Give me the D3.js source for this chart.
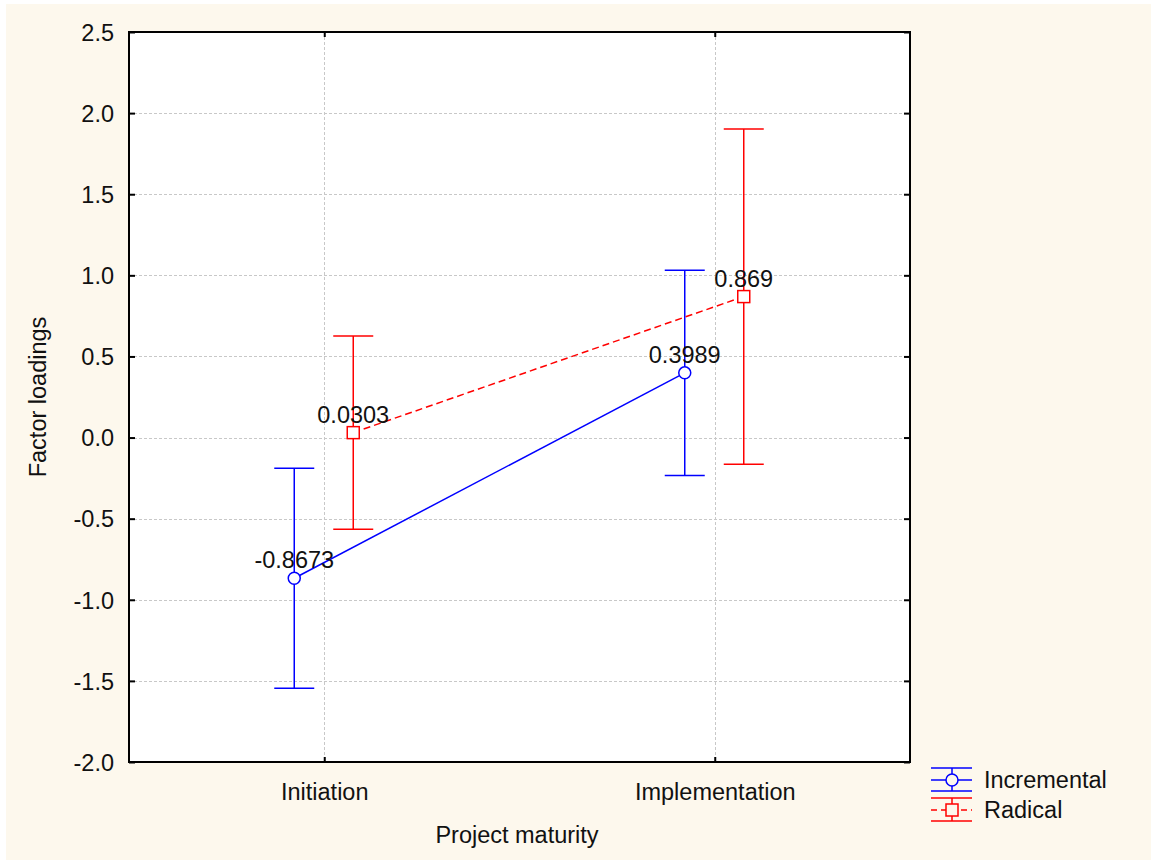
<!DOCTYPE html>
<html>
<head>
<meta charset="utf-8">
<script src="https://cdn.jsdelivr.net/npm/d3@7"></script>
<style>
  html, body { margin: 0; padding: 0; background: #ffffff; }
  svg { display: block; }
  text { font-family: "Liberation Sans", Arial, sans-serif; fill: #111; }
</style>
</head>
<body>
<svg id="chart" width="1151" height="860"></svg>
<script>
// Categories and series (means with symmetric error half-widths)
const categories = ["Initiation", "Implementation"];
const seriesNames = ["Incremental", "Radical"];
const incrementalMeans = [-0.8673, 0.3989];
const incrementalErrors = [0.678, 0.633];
const radicalMeans = [0.0303, 0.869];
const radicalErrors = [0.595, 1.033];
const yTicks = [-2.0, -1.5, -1.0, -0.5, 0.0, 0.5, 1.0, 1.5, 2.0, 2.5];

const series = [
  { name: seriesNames[0], means: incrementalMeans, errs: incrementalErrors, color: "#0000ff", dash: null, marker: "circle", shift: -30 },
  { name: seriesNames[1], means: radicalMeans, errs: radicalErrors, color: "#ff0000", dash: "7,4", marker: "square", shift: 29 }
];

const svg = d3.select("#chart");
const W = 1151, H = 860;
const plot = { left: 129, top: 32, right: 910, bottom: 762 };
const FS = 23.5;

// Page background
svg.append("rect").attr("x", 6).attr("y", 4).attr("width", W - 6).attr("height", H - 4).attr("fill", "#fdf8ed");
svg.append("rect").attr("x", plot.left).attr("y", plot.top)
  .attr("width", plot.right - plot.left).attr("height", plot.bottom - plot.top).attr("fill", "#ffffff");

const x = d3.scalePoint().domain(categories).range([plot.left, plot.right]).padding(0.5);
const y = d3.scaleLinear().domain([-2.0, 2.5]).range([plot.bottom, plot.top]);

// Grid lines
const grid = svg.append("g").attr("stroke", "#c8c8c8").attr("stroke-width", 1).attr("stroke-dasharray", "3,2");
grid.selectAll("line.h").data(yTicks.filter(t => t > -2 && t < 2.5)).join("line")
  .attr("x1", plot.left).attr("x2", plot.right)
  .attr("y1", d => Math.round(y(d)) + 0.5).attr("y2", d => Math.round(y(d)) + 0.5);
grid.selectAll("line.v").data(categories).join("line")
  .attr("y1", plot.top).attr("y2", plot.bottom)
  .attr("x1", d => Math.round(x(d)) + 0.5).attr("x2", d => Math.round(x(d)) + 0.5);

// Axes: ticks drawn inward on all four sides; plain hyphen for negatives
const fmt = d => d3.format(".1f")(d).replace("\u2212", "-");
const yLeft = svg.append("g").attr("transform", `translate(${plot.left},0)`)
  .call(d3.axisLeft(y).tickValues(yTicks).tickSize(-6).tickPadding(15).tickFormat(fmt));
const yRight = svg.append("g").attr("transform", `translate(${plot.right},0)`)
  .call(d3.axisRight(y).tickValues(yTicks).tickSize(-6).tickFormat(""));
const xBottom = svg.append("g").attr("transform", `translate(0,${plot.bottom})`)
  .call(d3.axisBottom(x).tickSize(-5).tickPadding(21));
const xTop = svg.append("g").attr("transform", `translate(0,${plot.top})`)
  .call(d3.axisTop(x).tickSize(-5).tickFormat(""));
[yLeft, yRight, xBottom, xTop].forEach(g => {
  g.select(".domain").remove();
  g.selectAll(".tick line").attr("stroke", "#000").attr("stroke-width", 2);
  g.selectAll(".tick text").attr("font-size", FS).attr("fill", "#111")
    .style("font-family", "'Liberation Sans', Arial, sans-serif");
});
yLeft.selectAll(".tick text").attr("dy", "0.35em");
xBottom.selectAll(".tick text").attr("dy", "0.71em");

// Frame
svg.append("rect").attr("x", plot.left).attr("y", plot.top)
  .attr("width", plot.right - plot.left).attr("height", plot.bottom - plot.top)
  .attr("fill", "none").attr("stroke", "#000").attr("stroke-width", 2);

// Series: connecting line, error bars, markers, value labels
const capHalf = 20;
series.forEach(s => {
  const pts = categories.map((c, i) => ({ cx: x(c) + s.shift, m: s.means[i], e: s.errs[i] }));
  const g = svg.append("g");
  g.append("path")
    .attr("d", d3.line().x(d => d.cx).y(d => y(d.m))(pts))
    .attr("fill", "none").attr("stroke", s.color).attr("stroke-width", 1.5)
    .attr("stroke-dasharray", s.dash);
  pts.forEach(p => {
    const eb = g.append("g").attr("stroke", s.color).attr("stroke-width", 1.5);
    eb.append("line").attr("x1", p.cx).attr("x2", p.cx).attr("y1", y(p.m + p.e)).attr("y2", y(p.m - p.e));
    eb.append("line").attr("x1", p.cx - capHalf).attr("x2", p.cx + capHalf).attr("y1", y(p.m + p.e)).attr("y2", y(p.m + p.e));
    eb.append("line").attr("x1", p.cx - capHalf).attr("x2", p.cx + capHalf).attr("y1", y(p.m - p.e)).attr("y2", y(p.m - p.e));
    if (s.marker === "circle") {
      g.append("circle").attr("cx", p.cx).attr("cy", y(p.m)).attr("r", 6)
        .attr("fill", "#fff").attr("stroke", s.color).attr("stroke-width", 1.5);
    } else {
      g.append("rect").attr("x", p.cx - 6).attr("y", y(p.m) - 6).attr("width", 12).attr("height", 12)
        .attr("fill", "#fff").attr("stroke", s.color).attr("stroke-width", 1.5);
    }
    g.append("text").attr("x", p.cx).attr("y", y(p.m) - 10)
      .attr("text-anchor", "middle").attr("font-size", FS).text(String(p.m));
  });
});

// Axis titles
svg.append("text").attr("x", 517).attr("y", 843)
  .attr("text-anchor", "middle").attr("font-size", FS).text("Project maturity");
svg.append("text").attr("transform", `translate(46,${(plot.top + plot.bottom) / 2}) rotate(-90)`)
  .attr("text-anchor", "middle").attr("font-size", FS).text("Factor loadings");

// Legend
const legend = svg.append("g");
series.forEach((s, i) => {
  const ly = 780 + i * 30;
  const lg = legend.append("g").attr("stroke", s.color).attr("stroke-width", 1.5);
  const x0 = 931, x1 = 972, cx = 952;
  lg.append("line").attr("x1", x0).attr("x2", x1).attr("y1", ly - 12).attr("y2", ly - 12);
  lg.append("line").attr("x1", x0).attr("x2", x1).attr("y1", ly + 11).attr("y2", ly + 11);
  lg.append("line").attr("x1", cx).attr("x2", cx).attr("y1", ly - 12).attr("y2", ly + 11);
  lg.append("line").attr("x1", x0).attr("x2", x1).attr("y1", ly).attr("y2", ly)
    .attr("stroke-dasharray", s.dash ? "6,4" : null);
  if (s.marker === "circle") {
    lg.append("circle").attr("cx", cx).attr("cy", ly).attr("r", 6).attr("fill", "#fdf8ed");
  } else {
    lg.append("rect").attr("x", cx - 6).attr("y", ly - 6).attr("width", 12).attr("height", 12).attr("fill", "#fdf8ed");
  }
  legend.append("text").attr("x", 984).attr("y", ly + 8).attr("font-size", FS).text(s.name);
});
</script>
</body>
</html>
